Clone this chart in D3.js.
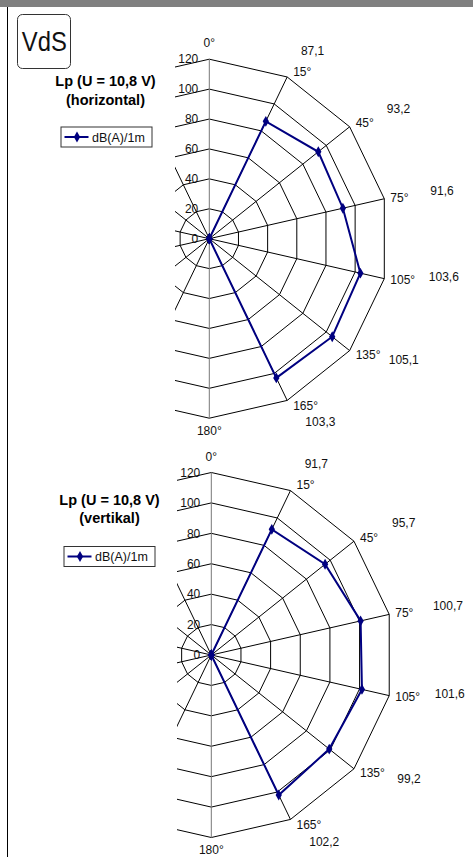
<!DOCTYPE html>
<html>
<head>
<meta charset="utf-8">
<script src="https://cdn.jsdelivr.net/npm/d3@7"></script>
<style>
  body { margin: 0; background: #fff; }
  svg { display: block; font-family: "Liberation Sans", Arial, sans-serif; }
</style>
</head>
<body>
<div class="graph"></div>
<script>
var width = 473;
var height = 857;

// data
var categories = ["0°", "15°", "45°", "75°", "105°", "135°", "165°", "180°",
                  "195°", "225°", "255°", "285°", "315°", "345°"];
var horizontalValues = [0, 87.1, 93.2, 91.6, 103.6, 105.1, 103.3, 0, 0, 0, 0, 0, 0, 0];
var verticalValues = [0, 91.7, 95.7, 100.7, 101.6, 99.2, 102.2, 0, 0, 0, 0, 0, 0, 0];
var radiusTicks = [0, 20, 40, 60, 80, 100, 120];
var seriesName = "dB(A)/1m";
var heading = "Lp (U = 10,8 V)";

var navy = "#000080";
var deFormat = d3.formatLocale({decimal: ",", thousands: ".", grouping: [3], currency: ["", " €"]}).format(".1f");

var svg = d3.select(".graph").append("svg")
  .attr("width", width)
  .attr("height", height);

// frame: grey bar on top, black rule on the left
svg.append("rect")
  .attr("x", 0).attr("y", 0)
  .attr("width", width).attr("height", 7)
  .attr("fill", "#808080");

svg.append("line")
  .attr("x1", 7.5).attr("x2", 7.5)
  .attr("y1", 7).attr("y2", height)
  .attr("stroke", "#000")
  .attr("stroke-width", 1);

// VdS logo box
svg.append("rect")
  .attr("x", 17.5).attr("y", 14.5)
  .attr("width", 53).attr("height", 54)
  .attr("rx", 5)
  .attr("fill", "none")
  .attr("stroke", "#333");

svg.append("text")
  .attr("x", 44.3).attr("y", 51)
  .attr("text-anchor", "middle")
  .attr("font-size", 27)
  .attr("textLength", 45)
  .attr("lengthAdjust", "spacingAndGlyphs")
  .attr("fill", "#111")
  .text("VdS");

var charts = [
  {sub: "(horizontal)", values: horizontalValues, cx: 209.3, cy: 238.7, r: 179.5, clipX: 175,
   titleX: 105.5, titleY: 86, legendX: 60.5, legendY: 126.5},
  {sub: "(vertikal)", values: verticalValues, cx: 211.3, cy: 655, r: 182.5, clipX: 177,
   titleX: 109.5, titleY: 504.5, legendX: 63.5, legendY: 546}
];

charts.forEach(drawRadar);

function drawRadar(cfg, idx) {
  var R = cfg.r;

  var rScale = d3.scaleLinear()
    .domain([0, 120])
    .range([0, R]);

  var angle = d3.scaleLinear()
    .domain([0, categories.length])
    .range([0, 2 * Math.PI]);

  var clipId = "clip" + idx;
  svg.append("clipPath")
    .attr("id", clipId)
    .append("rect")
    .attr("x", cfg.clipX).attr("y", 0)
    .attr("width", width - cfg.clipX).attr("height", height);

  var plot = svg.append("g")
    .attr("clip-path", "url(#" + clipId + ")")
    .append("g")
    .attr("transform", "translate(" + cfg.cx + "," + cfg.cy + ")");

  // value axis labels (the grid runs over them)
  plot.selectAll(".tick")
    .data(radiusTicks)
    .enter().append("text")
    .attr("class", "tick")
    .attr("x", -11)
    .attr("y", d => -rScale(d))
    .attr("dy", "0.35em")
    .attr("text-anchor", "end")
    .attr("font-size", 12)
    .attr("fill", "#111")
    .text(d => d);

  // rings
  var ring = d3.lineRadial()
    .angle((d, i) => angle(i))
    .curve(d3.curveLinearClosed);

  plot.selectAll(".ring")
    .data(radiusTicks.filter(d => d > 0))
    .enter().append("path")
    .attr("class", "ring")
    .attr("d", t => ring.radius(rScale(t))(categories))
    .attr("fill", "none")
    .attr("stroke", "#000")
    .attr("stroke-width", 1);

  // spokes
  plot.selectAll(".spoke")
    .data(categories)
    .enter().append("line")
    .attr("class", "spoke")
    .attr("x1", 0).attr("y1", 0)
    .attr("x2", (d, i) => R * Math.sin(angle(i)))
    .attr("y2", (d, i) => -R * Math.cos(angle(i)))
    .attr("stroke", (d, i) => (i === 0 || i === 7) ? "#777" : "#000")
    .attr("stroke-width", 1);

  // category labels: only the right half lies inside the cropped view
  var visibleCats = categories.map((c, i) => ({c: c, i: i}))
    .filter(d => angle(d.i) <= Math.PI + 1e-6);

  plot.selectAll(".cat")
    .data(visibleCats)
    .enter().append("text")
    .attr("class", "cat")
    .attr("font-size", 12)
    .attr("fill", "#111")
    .attr("dy", "0.35em")
    .each(function (d) {
      var a = angle(d.i);
      var vx = R * Math.sin(a), vy = -R * Math.cos(a);
      var t = d3.select(this);
      if (d.i === 0) {
        t.attr("x", 0).attr("y", vy - 16).attr("text-anchor", "middle");
      } else if (Math.abs(a - Math.PI) < 1e-6) {
        t.attr("x", 0).attr("y", vy + 12.5).attr("text-anchor", "middle");
      } else {
        t.attr("x", vx + 6).attr("y", vy - 6 * Math.cos(a)).attr("text-anchor", "start");
      }
    })
    .text(d => d.c);

  // value labels, set off outside the rings
  plot.selectAll(".val")
    .data(cfg.values.map((v, i) => ({v: v, i: i})).filter(d => d.v > 0))
    .enter().append("text")
    .attr("class", "val")
    .attr("font-size", 12)
    .attr("fill", "#111")
    .attr("text-anchor", "middle")
    .attr("dy", "0.35em")
    .each(function (d) {
      var a = angle(d.i);
      var a2 = a + (5.5 * Math.sin(2 * a) - 1.2) * Math.PI / 180;
      var rr = R * (1.09 + 0.24 * Math.sin(a));
      d3.select(this)
        .attr("x", rr * Math.sin(a2))
        .attr("y", -rr * Math.cos(a2));
    })
    .text(d => deFormat(d.v));

  // series
  var line = d3.lineRadial()
    .angle((d, i) => angle(i))
    .radius(d => rScale(d))
    .curve(d3.curveLinearClosed);

  plot.append("path")
    .datum(cfg.values)
    .attr("d", line)
    .attr("fill", "none")
    .attr("stroke", navy)
    .attr("stroke-width", 2);

  var diamond = d3.symbol().type(d3.symbolDiamond).size(34);

  plot.selectAll(".pt")
    .data(cfg.values)
    .enter().append("path")
    .attr("class", "pt")
    .attr("d", diamond)
    .attr("transform", (d, i) => "translate(" + (rScale(d) * Math.sin(angle(i))) + "," +
                                  (-rScale(d) * Math.cos(angle(i))) + ")")
    .attr("fill", navy);

  // title, two lines
  [heading, cfg.sub].forEach(function (txt, k) {
    svg.append("text")
      .attr("x", cfg.titleX)
      .attr("y", cfg.titleY + k * 18.6)
      .attr("text-anchor", "middle")
      .attr("font-size", 14.5)
      .attr("font-weight", "bold")
      .attr("fill", "#000")
      .text(txt);
  });

  // legend
  var lg = svg.append("g")
    .attr("transform", "translate(" + cfg.legendX + "," + cfg.legendY + ")");

  lg.append("rect")
    .attr("x", 0.5).attr("y", 0.5)
    .attr("width", 91).attr("height", 20)
    .attr("fill", "#fff")
    .attr("stroke", "#333");

  lg.append("line")
    .attr("x1", 4).attr("x2", 28)
    .attr("y1", 10.5).attr("y2", 10.5)
    .attr("stroke", navy)
    .attr("stroke-width", 2);

  lg.append("path")
    .attr("d", diamond)
    .attr("transform", "translate(16.5,10.5)")
    .attr("fill", navy);

  lg.append("text")
    .attr("x", 31.5)
    .attr("y", 15)
    .attr("font-size", 12.5)
    .attr("fill", "#111")
    .text(seriesName);
}
</script>
</body>
</html>
